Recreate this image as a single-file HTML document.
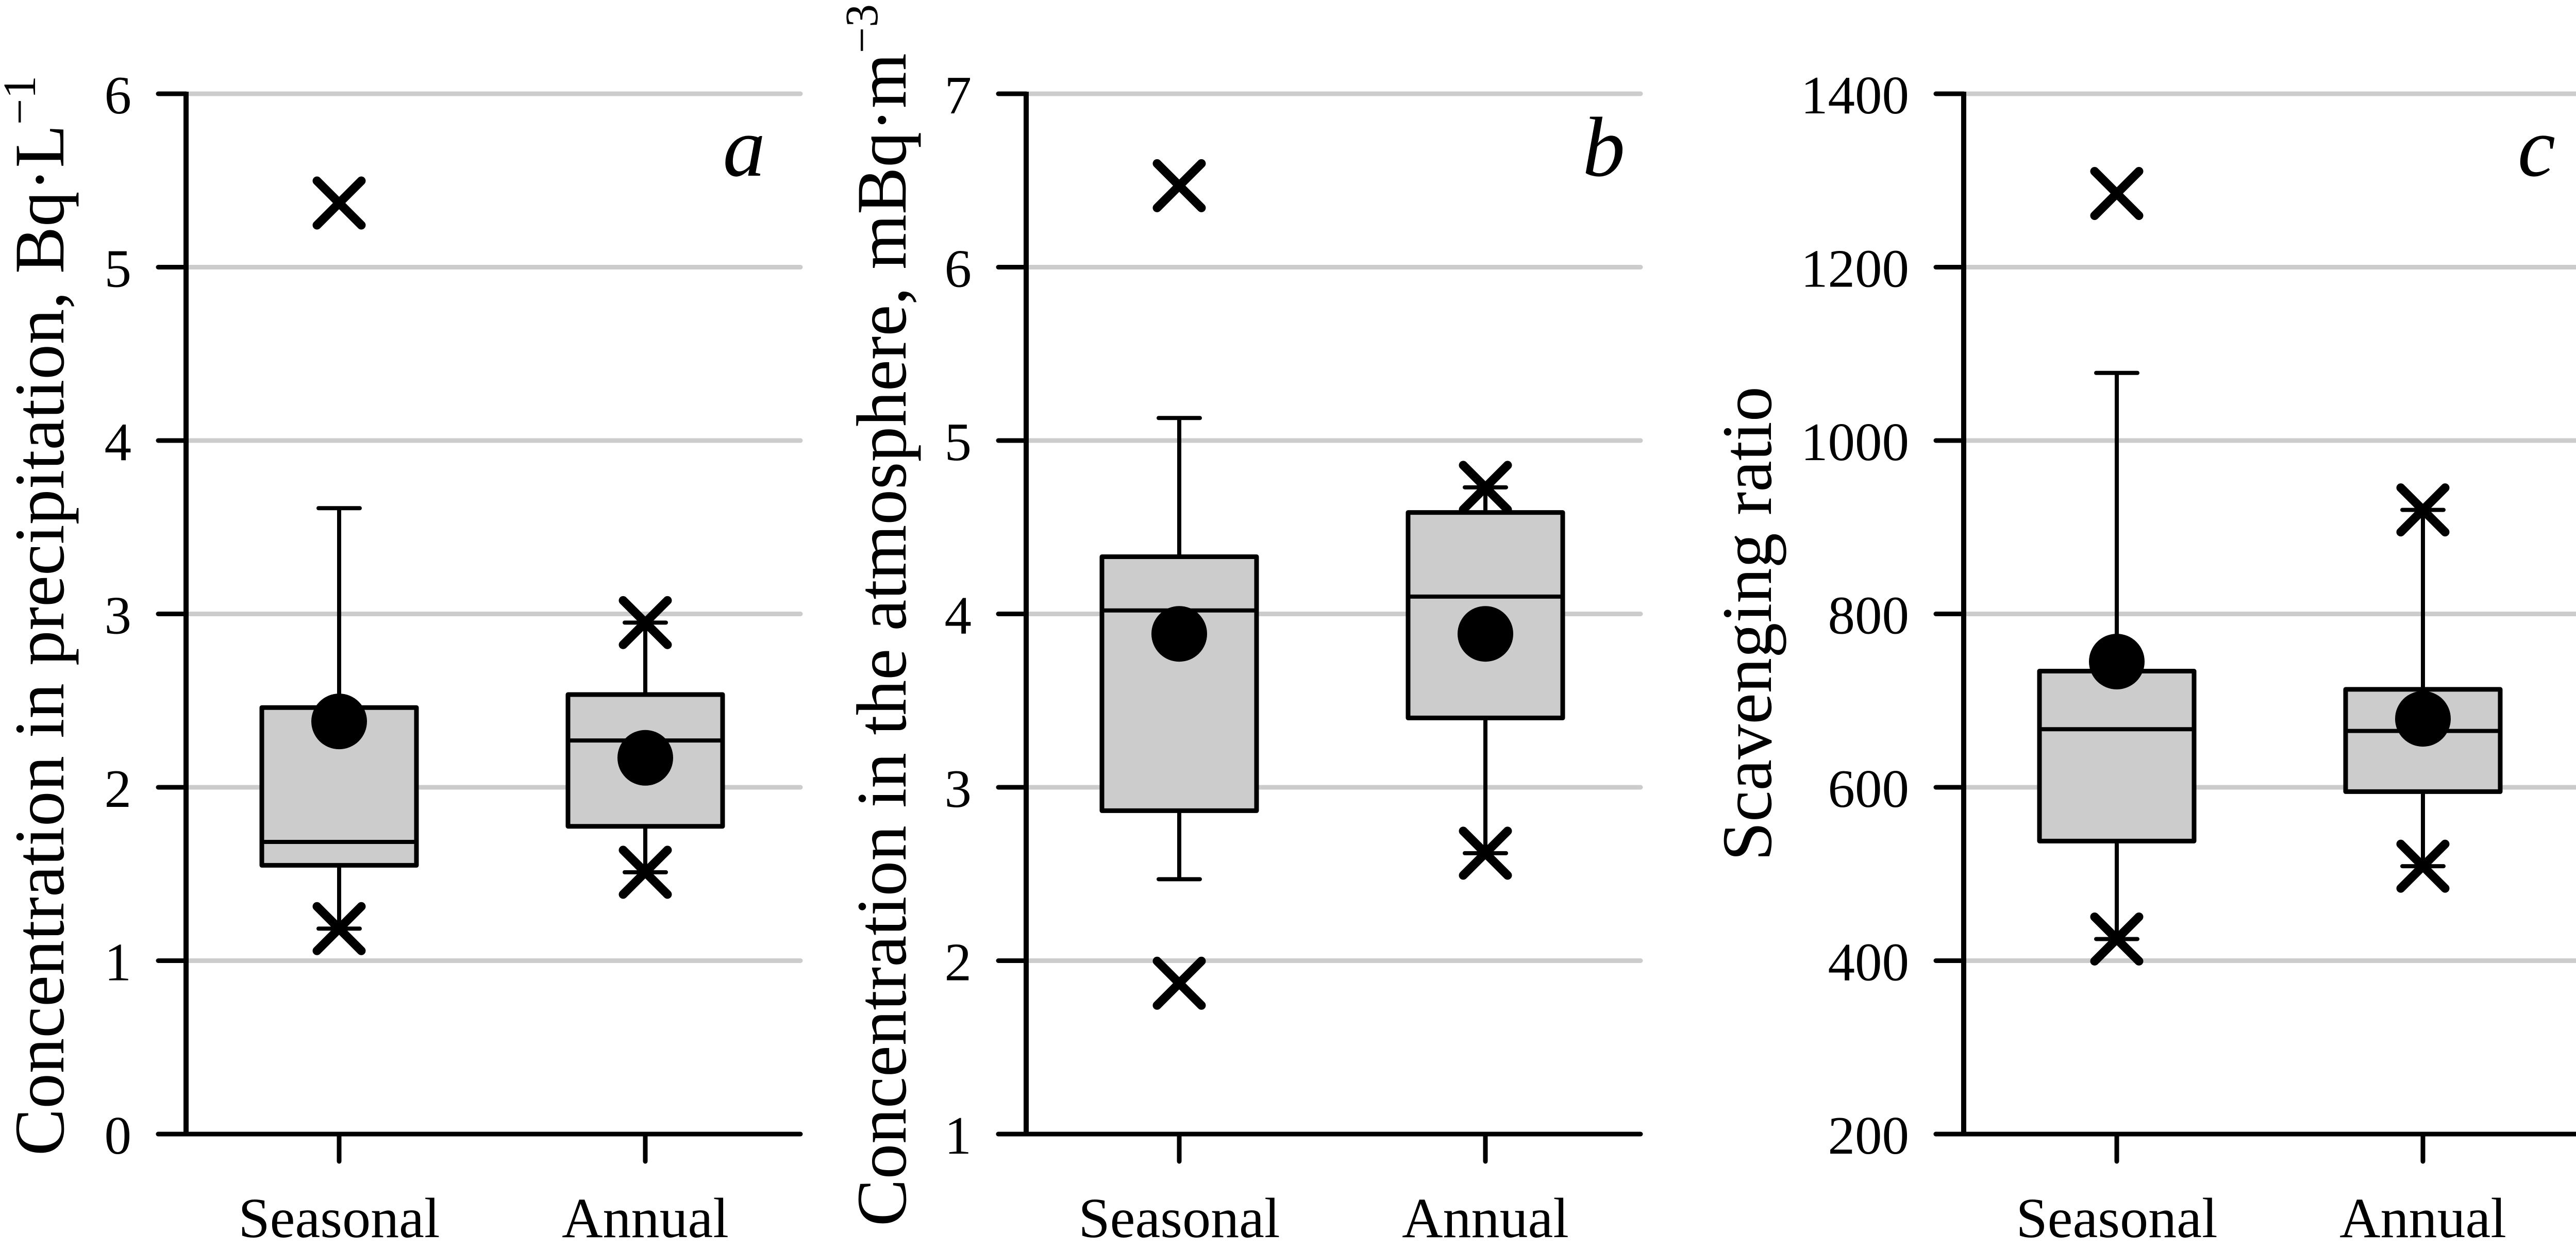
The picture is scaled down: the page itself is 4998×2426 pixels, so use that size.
<!DOCTYPE html>
<html><head><meta charset="utf-8">
<style>
html,body{margin:0;padding:0;background:#fff;}
svg{display:block;font-family:"Liberation Serif","Times New Roman","DejaVu Serif",serif;}
text,tspan{font-family:"Liberation Serif","Times New Roman","DejaVu Serif",serif;fill:#000;}
</style></head>
<body>
<svg id="chart" width="4998" height="2426" viewBox="0 0 4998 2426" xmlns="http://www.w3.org/2000/svg" font-family="Liberation Serif, serif"></svg>
<script>
// ---- data ----
const categories = ["Seasonal", "Annual"];
const panelLetters = ["a", "b", "c"];
const yMins = [0, 1, 200];
const yMaxs = [6, 7, 1400];
const yTicksA = [0, 1, 2, 3, 4, 5, 6];
const yTicksB = [1, 2, 3, 4, 5, 6, 7];
const yTicksC = [200, 400, 600, 800, 1000, 1200, 1400];
// per panel: [Seasonal, Annual]
const q1A = [1.55, 1.775];   const q3A = [2.46, 2.535];  const medA = [1.685, 2.27];  const meanA = [2.38, 2.17];
const wLoA = [1.185, 1.51];  const wHiA = [3.61, 2.95];
const outA = [[5.37, 1.185], [2.95, 1.51]];
const q1B = [2.865, 3.40];   const q3B = [4.33, 4.585];  const medB = [4.02, 4.10];   const meanB = [3.885, 3.885];
const wLoB = [2.47, 2.62];   const wHiB = [5.13, 4.73];
const outB = [[6.47, 1.87], [4.73, 2.62]];
const q1C = [538, 595];      const q3C = [734, 713];     const medC = [667, 665];     const meanC = [745, 679];
const wLoC = [425, 509];     const wHiC = [1078, 920];
const outC = [[1285, 425], [920, 509]];

const panels = [
 {ticks:yTicksA,q1:q1A,q3:q3A,med:medA,mean:meanA,wlo:wLoA,whi:wHiA,out:outA},
 {ticks:yTicksB,q1:q1B,q3:q3B,med:medB,mean:meanB,wlo:wLoB,whi:wHiB,out:outB},
 {ticks:yTicksC,q1:q1C,q3:q3C,med:medC,mean:meanC,wlo:wLoC,whi:wHiC,out:outC}
];

// ---- layout ----
const NS = "http://www.w3.org/2000/svg";
const FONT = '"Liberation Serif", "Times New Roman", serif';
const svg = document.getElementById("chart");
const axisXs = [361, 1991, 3810];
const plotW = 1192;
const yTop = 182, yBot = 2201;
const catOff = [297, 891];
const letterRight = [1485, 3153, 4958];
const titles = [
 {x:123, y0:2243, len:2096, main:"Concentration in precipitation, Bq·L", sup:"−1"},
 {x:1757, y0:2380, len:2372, main:"Concentration in the atmosphere, mBq·m", sup:"−3"},
 {x:3436, y0:1671, len:921, main:"Scavenging ratio", sup:""}
];

function el(tag, attrs, parent){
  const e = document.createElementNS(NS, tag);
  for (const k in attrs) e.setAttribute(k, attrs[k]);
  if (tag === "text" || tag === "tspan") e.setAttribute("font-family", FONT);
  (parent||svg).appendChild(e);
  return e;
}

panels.forEach((p, pi) => {
  const ax = axisXs[pi];
  const ymin = yMins[pi], ymax = yMaxs[pi];
  const yS = v => yBot - (v - ymin) / (ymax - ymin) * (yBot - yTop);
  const g = el("g", {});
  
  

  p.ticks.forEach(t => {
    if (t === ymin) return;
    const gl = el("line", {x1:ax, x2:ax+plotW, y1:yS(t), y2:yS(t), stroke:"#cccccc", "stroke-width":9, "stroke-linecap":"round"}, g);
    
    
  });
  p.ticks.forEach(t => {
    const tk = el("line", {x1:ax-54, x2:ax, y1:yS(t), y2:yS(t), stroke:"#000", "stroke-width":9, "stroke-linecap":"round"}, g);
    
    
    const tl = el("text", {x:ax-106, y:yS(t)+38, "text-anchor":"end", "font-size":105}, g);
    tl.textContent = String(t);
    
    
  });
  const xa = el("line", {x1:ax-54, x2:ax+plotW, y1:yBot, y2:yBot, stroke:"#000", "stroke-width":9, "stroke-linecap":"round"}, g);
  
  
  const ya = el("line", {x1:ax, x2:ax, y1:yTop-4, y2:yBot, stroke:"#000", "stroke-width":10}, g);
  
  

  categories.forEach((c, ci) => {
    const cx = ax + catOff[ci];
    const xt = el("line", {x1:cx, x2:cx, y1:yBot, y2:yBot+53, stroke:"#000", "stroke-width":9, "stroke-linecap":"round"}, g);
    
    
    const xl = el("text", {x:cx, y:2401, "text-anchor":"middle", "font-size":110}, g);
    xl.textContent = c;
    
    

    const hw = 40;
    const wh = el("line", {x1:cx, x2:cx, y1:yS(p.whi[ci]), y2:yS(p.q3[ci]), stroke:"#000", "stroke-width":8}, g);
    
    
    const wl = el("line", {x1:cx, x2:cx, y1:yS(p.q1[ci]), y2:yS(p.wlo[ci]), stroke:"#000", "stroke-width":8}, g);
    
    
    [p.whi[ci], p.wlo[ci]].forEach(v => {
      const cp = el("line", {x1:cx-hw, x2:cx+hw, y1:yS(v), y2:yS(v), stroke:"#000", "stroke-width":8, "stroke-linecap":"round"}, g);
      
      
    });
    const bx = el("rect", {x:cx-150, y:yS(p.q3[ci]), width:300, height:yS(p.q1[ci])-yS(p.q3[ci]), fill:"#cccccc", stroke:"#000", "stroke-width":9, "stroke-linejoin":"round"}, g);
    
    
    const md = el("line", {x1:cx-150, x2:cx+150, y1:yS(p.med[ci]), y2:yS(p.med[ci]), stroke:"#000", "stroke-width":8}, g);
    
    
    const mn = el("circle", {cx:cx, cy:yS(p.mean[ci]), r:54, fill:"#000"}, g);
    
    
    p.out[ci].forEach(v => {
      const y = yS(v), s = 43;
      const xm = el("path", {d:`M${cx-s},${y-s}L${cx+s},${y+s}M${cx+s},${y-s}L${cx-s},${y+s}`, stroke:"#000", "stroke-width":17, "stroke-linecap":"round", fill:"none"}, g);
      
      
    });
  });

  const lt = el("text", {x:letterRight[pi], y:341, "text-anchor":"end", "font-size":165, "font-style":"italic"}, g);
  lt.textContent = panelLetters[pi];
  
  

  const t = titles[pi];
  const yt = el("text", {transform:`translate(${t.x},${t.y0}) rotate(-90)`, "font-size":138, textLength:t.len, lengthAdjust:"spacingAndGlyphs"}, g);
  
  
  const ts1 = el("tspan", {}, yt);
  ts1.textContent = t.main;
  if (t.sup) {
    const ts2 = el("tspan", {dy:-55, "font-size":90}, yt);
    ts2.textContent = t.sup;
  }
});
</script>
</body></html>
